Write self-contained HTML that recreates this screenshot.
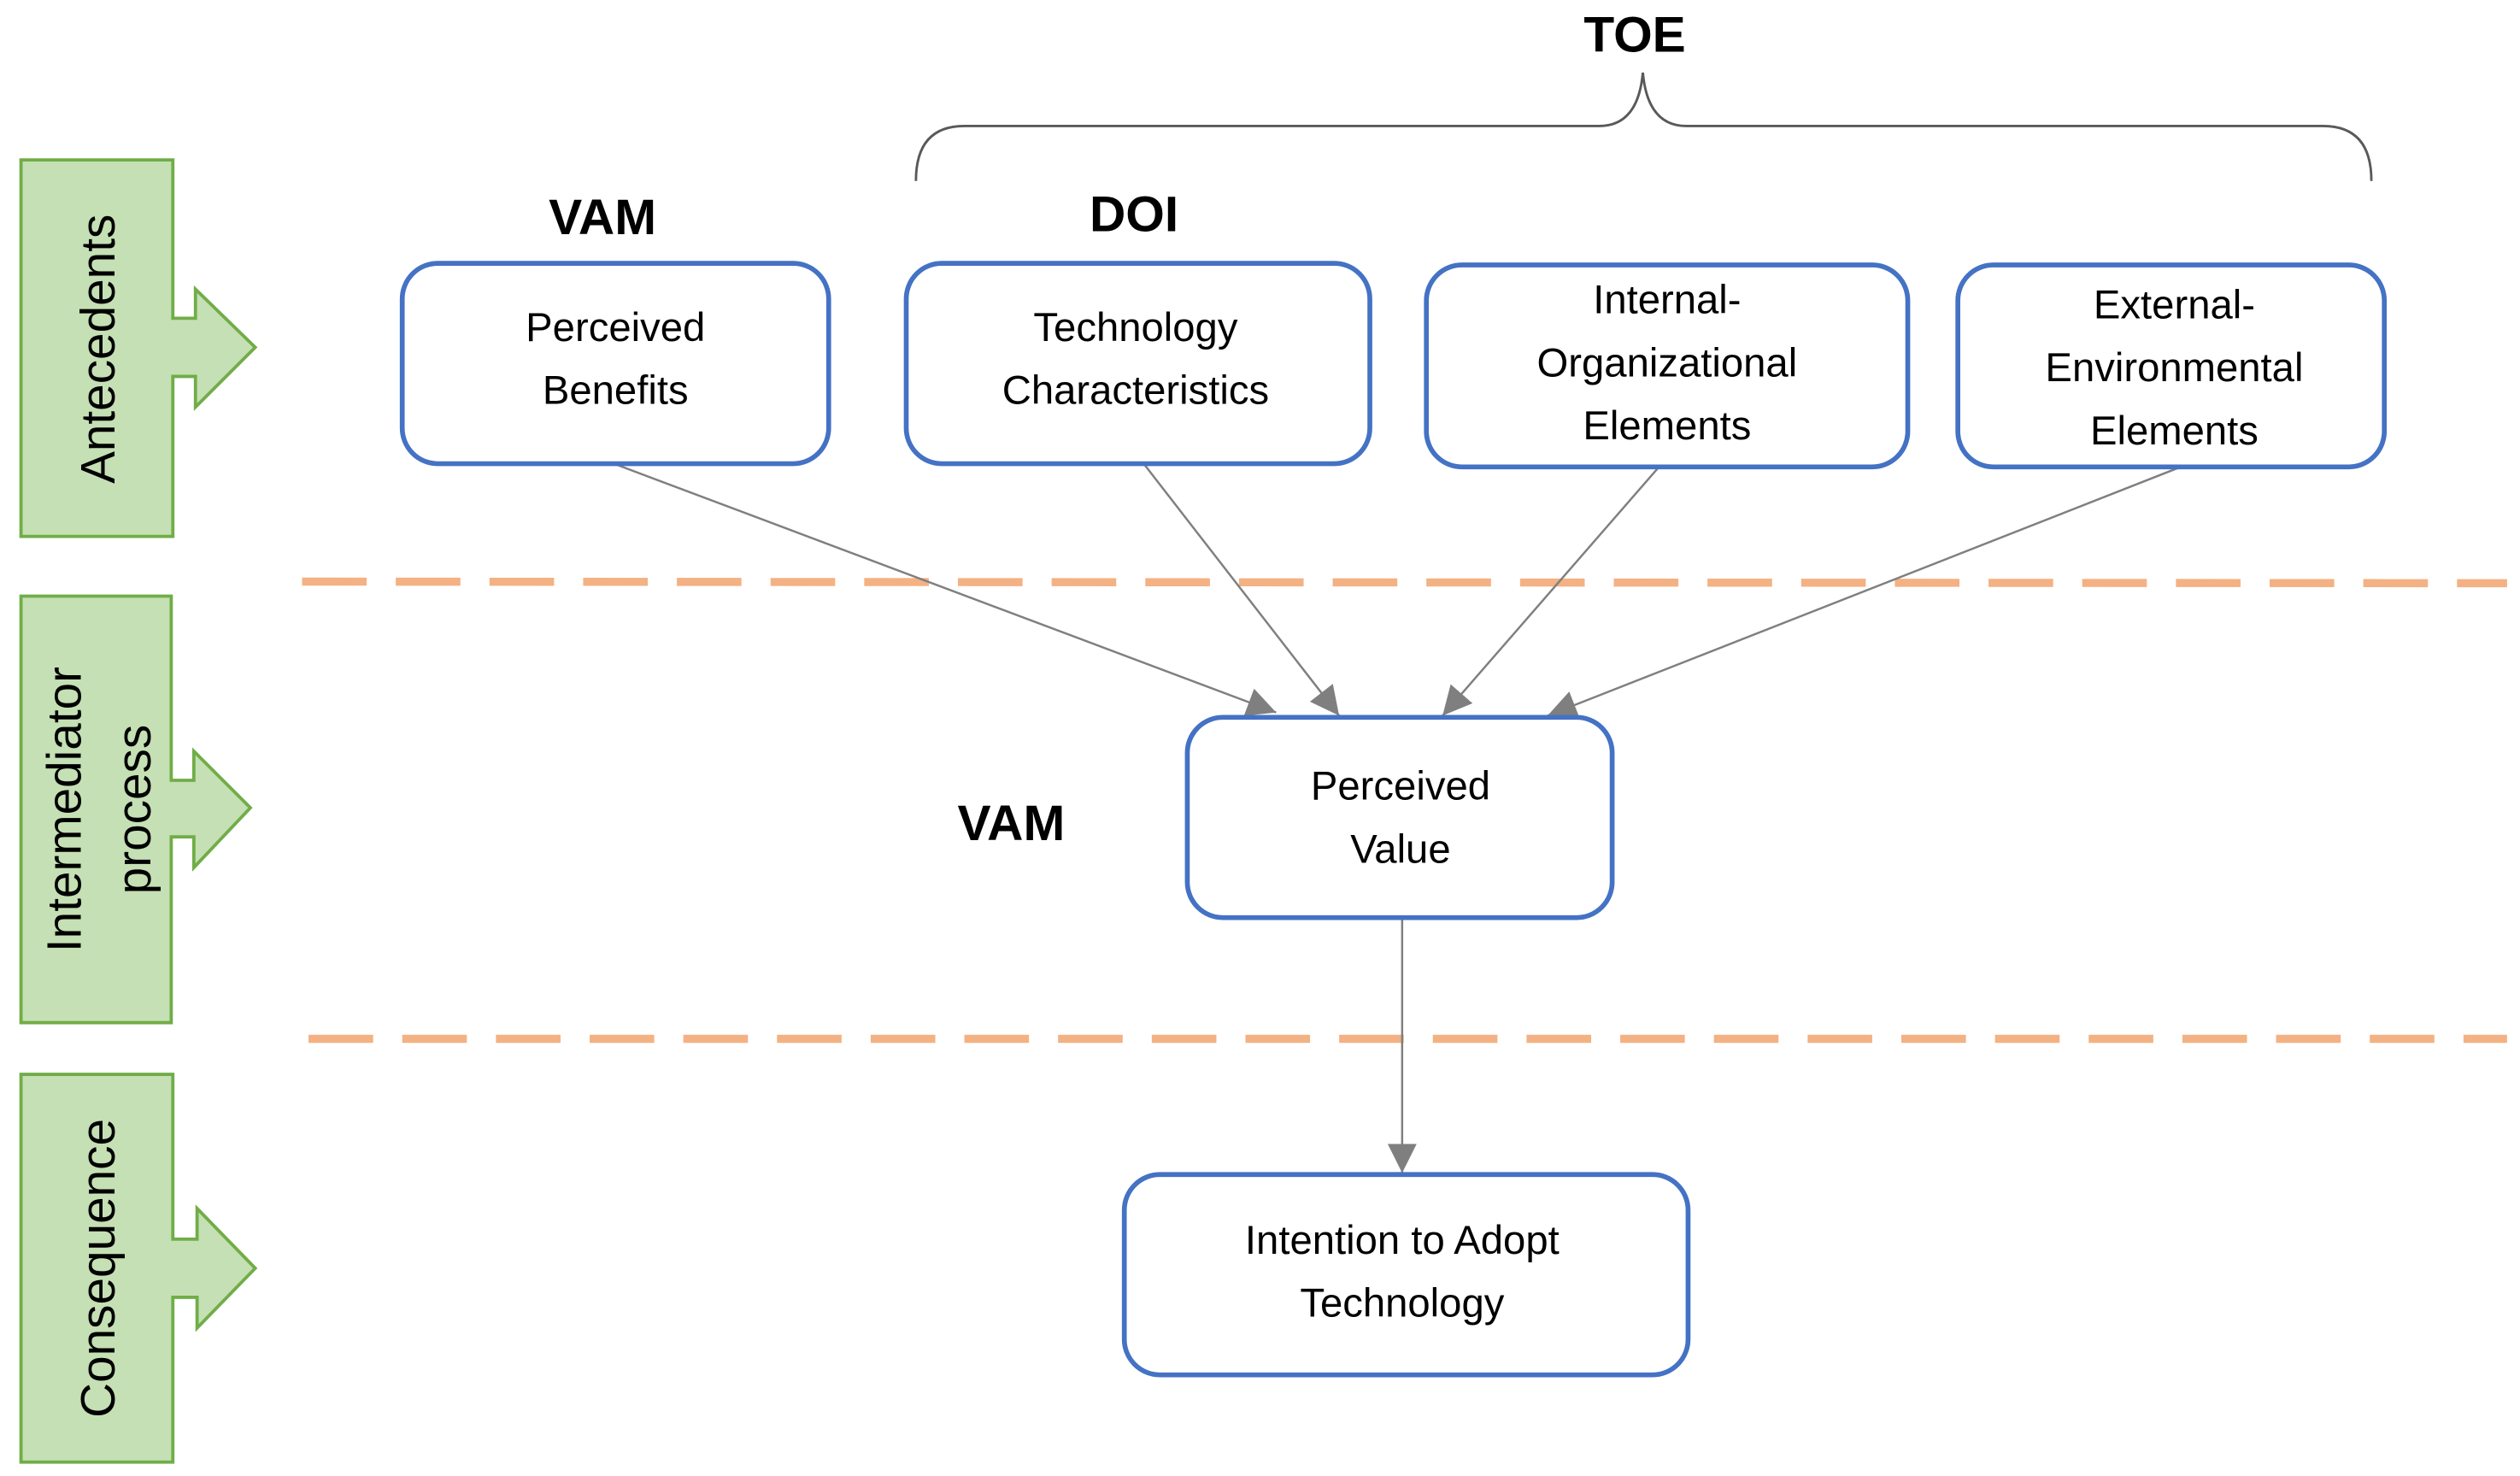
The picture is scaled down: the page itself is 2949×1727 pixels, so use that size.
<!DOCTYPE html>
<html><head><meta charset="utf-8"><style>
html,body{margin:0;padding:0;background:#fff;}
svg{display:block;}
text{font-family:"Liberation Sans",sans-serif;}
</style></head><body>
<svg width="2949" height="1727" viewBox="0 0 1560 913.6" preserveAspectRatio="none" xmlns="http://www.w3.org/2000/svg">
<defs>
<marker id="ah" viewBox="0 0 10 10" refX="10" refY="5" markerWidth="18" markerHeight="18" markerUnits="userSpaceOnUse" orient="auto">
<path d="M0,0 L10,5 L0,10 z" fill="#7f7f7f"/>
</marker>
</defs>
<g fill="#c5e0b4" stroke="#70ad47" stroke-width="2">
<path d="M13,99 H107 V197 H121 V179 L158,215 L121,252 V233 H107 V332 H13 Z"/>
<path d="M13,369 H106 V483 H120 V465 L155,500 L120,537 V518 H106 V633 H13 Z"/>
<path d="M13,665 H107 V767 H122 V748 L158,785 L122,822 V803 H107 V905 H13 Z"/>
</g>
<g font-size="30" fill="#000" text-anchor="middle">
<text transform="translate(71,216) rotate(-90)">Antecedents</text>
<text transform="translate(50,501) rotate(-90)">Intermediator</text>
<text transform="translate(93,501) rotate(-90)">process</text>
<text transform="translate(71,785) rotate(-90)">Consequence</text>
</g>
<g stroke="#f4b183" stroke-width="5" stroke-dasharray="40,18">
<line x1="187" y1="360" x2="1552" y2="361"/>
<line x1="191" y1="643" x2="1552" y2="643"/>
</g>
<path d="M567,112 Q567,78 597,78 H990 Q1014,78 1017,45 Q1020,78 1044,78 H1438 Q1468,78 1468,112" fill="none" stroke="#595959" stroke-width="1.5"/>
<g font-size="31" font-weight="bold" text-anchor="middle" fill="#000">
<text x="1012" y="32">TOE</text>
<text x="373" y="145">VAM</text>
<text x="702" y="143">DOI</text>
<text x="626" y="520">VAM</text>
</g>
<g stroke="#7f7f7f" stroke-width="1.3" marker-end="url(#ah)">
<line x1="380" y1="287" x2="790" y2="441"/>
<line x1="708" y1="287" x2="829" y2="443"/>
<line x1="1027" y1="289" x2="893" y2="443"/>
<line x1="1350" y1="289" x2="958" y2="443"/>
<line x1="868" y1="568" x2="868" y2="726"/>
</g>
<g fill="#fff" stroke="#4472c4" stroke-width="3">
<rect x="249" y="163" width="264" height="124" rx="22"/>
<rect x="561" y="163" width="287" height="124" rx="22"/>
<rect x="883" y="164" width="298" height="125" rx="22"/>
<rect x="1212" y="164" width="264" height="125" rx="22"/>
<rect x="735" y="444" width="263" height="124" rx="22"/>
<rect x="696" y="727" width="349" height="124" rx="22"/>
</g>
<g font-size="25" fill="#000" text-anchor="middle">
<text x="381" y="211">Perceived</text><text x="381" y="250">Benefits</text>
<text x="703" y="211">Technology</text><text x="703" y="250">Characteristics</text>
<text x="1032" y="194">Internal-</text><text x="1032" y="233">Organizational</text><text x="1032" y="272">Elements</text>
<text x="1346" y="197">External-</text><text x="1346" y="236">Environmental</text><text x="1346" y="275">Elements</text>
<text x="867" y="495">Perceived</text><text x="867" y="534">Value</text>
<text x="868" y="776">Intention to Adopt</text><text x="868" y="815">Technology</text>
</g>
</svg>
</body></html>
